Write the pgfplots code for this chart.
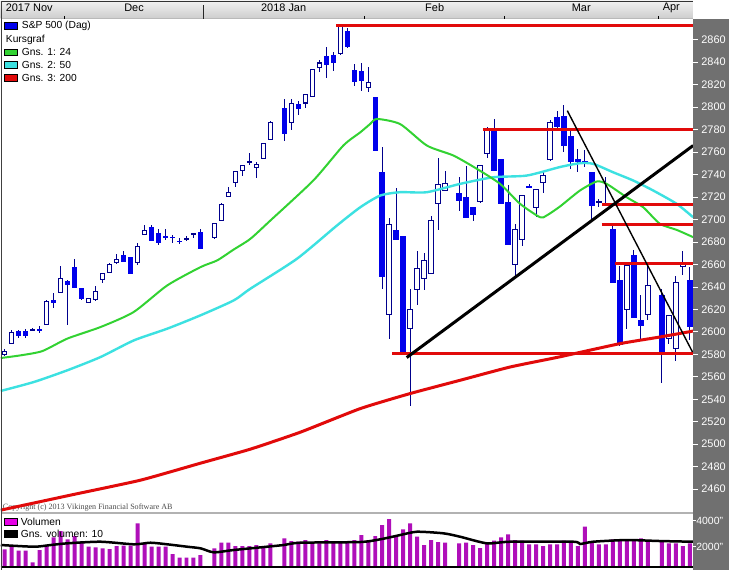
\documentclass[border=0pt]{standalone}
\usepackage{fontspec}
\setmainfont{Liberation Sans}
\newfontfamily\serifx{Liberation Serif}
\usepackage{pgfplots}
\usepackage{pgfplotstable}
\pgfplotsset{compat=1.18}
\definecolor{cblue}{RGB}{0,0,235}
\definecolor{cnavy}{RGB}{0,0,140}
\definecolor{mgreen}{RGB}{50,210,50}
\definecolor{mcyan}{RGB}{60,225,225}
\definecolor{mred}{RGB}{225,10,10}
\definecolor{vmag}{RGB}{175,15,185}
\definecolor{vmagsw}{RGB}{230,0,230}
\definecolor{strip}{RGB}{112,112,112}

% up candles: x open high low close
\pgfplotstableread{
x o h l c
0 2580.0 2585.1 2578.2 2582.9
1 2589.5 2602.0 2589.5 2599.8
4 2601.3 2603.7 2600.7 2602.2
6 2606.4 2628.0 2606.4 2627.1
8 2634.8 2658.2 2634.8 2647.3
12 2626.5 2630.0 2625.6 2629.5
13 2628.9 2640.4 2627.4 2636.3
14 2646.7 2651.7 2643.7 2651.7
15 2652.6 2661.5 2652.6 2660.0
16 2661.8 2669.5 2660.6 2664.2
19 2661.5 2679.3 2659.7 2676.0
20 2686.4 2695.3 2686.4 2690.2
26 2682.6 2684.9 2680.7 2683.0
27 2687.0 2687.6 2683.4 2687.5
30 2684.3 2696.2 2682.8 2696.2
31 2699.1 2714.5 2699.1 2713.3
32 2720.4 2729.3 2720.4 2723.7
33 2732.6 2742.9 2729.3 2742.9
34 2743.3 2748.0 2738.9 2748.0
35 2750.5 2759.3 2748.9 2751.2
36 2746.5 2750.9 2737.1 2748.9
37 2754.0 2767.3 2754.0 2767.3
38 2771.1 2788.0 2771.1 2786.0
41 2786.0 2807.3 2779.7 2802.9
43 2803.7 2811.1 2798.9 2811.1
44 2809.3 2834.0 2809.3 2833.1
45 2835.4 2842.2 2830.9 2839.3
48 2847.8 2872.4 2846.7 2872.4
52 2817.1 2835.4 2813.2 2822.0
55 2615.3 2701.2 2594.0 2695.6
58 2602.8 2638.4 2533.8 2619.7
59 2637.5 2672.4 2623.6 2656.2
60 2647.3 2670.0 2637.5 2663.6
61 2651.7 2702.7 2651.7 2699.1
62 2714.0 2754.8 2690.8 2731.1
63 2725.8 2743.6 2725.8 2732.3
68 2716.3 2748.0 2714.5 2748.0
69 2758.4 2782.0 2754.8 2779.7
73 2659.7 2696.2 2648.7 2690.8
74 2682.0 2721.3 2676.0 2721.3
76 2710.9 2726.4 2702.0 2726.4
77 2733.2 2742.0 2723.4 2739.1
78 2753.3 2788.6 2752.4 2786.5
85 2716.0 2718.4 2710.9 2716.0
86 2712.4 2737.6 2712.2 2714.0
89 2619.7 2659.1 2602.8 2659.1
92 2615.3 2658.2 2610.8 2641.3
95 2594.0 2614.7 2589.5 2614.7
96 2585.1 2649.3 2574.0 2644.3
97 2658.5 2672.4 2650.8 2662.0
}\upc

% down candles
\pgfplotstableread{
x o h l c
2 2600.4 2601.3 2594.8 2596.0
3 2601.0 2602.5 2594.5 2596.5
5 2602.8 2604.9 2598.9 2600.7
7 2628.0 2634.8 2621.5 2625.6
9 2644.9 2645.8 2606.4 2642.0
10 2657.6 2665.1 2639.3 2639.3
11 2639.3 2639.3 2628.0 2629.2
17 2668.0 2671.8 2662.0 2662.0
18 2666.5 2666.5 2651.1 2651.7
21 2693.2 2694.7 2680.7 2680.7
22 2688.2 2691.7 2676.9 2678.9
23 2684.9 2691.7 2682.0 2683.4
24 2684.5 2686.4 2678.9 2684.0
25 2680.9 2683.4 2678.4 2680.5
28 2689.3 2691.7 2674.0 2674.0
40 2799.3 2807.3 2769.6 2776.2
42 2802.9 2805.8 2793.3 2798.4
46 2845.8 2853.2 2826.0 2837.5
47 2846.7 2848.7 2831.8 2839.3
49 2868.0 2870.4 2852.3 2853.2
50 2833.1 2838.4 2819.1 2822.0
51 2832.4 2839.3 2814.0 2823.6
53 2809.3 2809.3 2760.7 2761.3
54 2742.0 2764.3 2638.4 2648.7
56 2690.8 2727.8 2682.0 2682.0
57 2684.9 2684.9 2581.2 2581.2
65 2723.4 2738.2 2707.4 2716.3
66 2720.4 2748.0 2701.5 2701.5
67 2710.9 2710.9 2698.5 2703.6
70 2780.6 2789.5 2743.6 2743.6
71 2754.0 2754.0 2714.0 2714.0
72 2715.4 2731.1 2677.5 2677.5
75 2730.2 2731.7 2727.8 2727.8
79 2790.9 2797.0 2780.0 2782.0
80 2792.4 2802.2 2759.8 2765.2
81 2774.7 2780.6 2745.1 2750.9
82 2754.0 2762.8 2742.0 2750.9
83 2752.4 2762.0 2746.5 2750.4
84 2742.0 2742.0 2699.1 2712.4
87 2691.7 2695.6 2643.4 2643.4
88 2646.4 2658.2 2587.1 2588.0
90 2668.0 2673.1 2612.6 2612.6
91 2610.8 2632.4 2593.1 2604.9
94 2633.1 2638.4 2554.5 2581.2
98 2645.8 2657.6 2592.4 2604.3
}\downc

% volume
\pgfplotstableread{
x v
0 1800
1 2000
2 1692
3 1692
4 800
5 1746
6 2131
7 2723
8 3208
9 2569
10 2823
11 2385
12 2000
13 1954
14 1877
15 1823
16 2054
17 2077
18 2077
19 3800
20 2262
21 2000
22 2000
23 2000
24 1438
25 1154
26 1154
27 1154
28 1362
30 1877
31 2308
32 2308
33 2054
34 2054
35 2054
36 2131
37 2054
38 2262
40 2646
41 2438
42 2385
43 2515
44 2262
45 2262
46 2515
47 2385
48 2385
49 2385
50 2515
51 2900
52 2515
53 2823
54 3669
55 4131
56 2900
57 3338
58 3800
59 2769
60 2131
61 2515
62 2362
63 2308
65 2262
66 2308
67 2131
68 1900
69 2208
70 2462
71 2723
72 2954
73 2515
74 2462
75 2185
76 2185
77 2054
78 2185
79 2185
80 2462
81 2308
82 2054
83 3538
84 2308
85 2185
86 2185
87 2569
88 2569
89 2515
90 2569
91 2646
92 2462
94 2515
95 2262
96 2262
97 2054
98 2262
}\vol

\pgfplotsset{candle/.style={draw=none, mark=none, forget plot,
  error bars/.cd, y dir=both, y explicit, error mark=none}}

\begin{document}
\begin{tikzpicture}
\fill[white] (0bp,0bp) rectangle (729bp,570bp);
\fill[strip] (693bp,0bp) rectangle (729bp,552bp);
\shade[top color=gray!10, bottom color=gray!40] (0bp,552bp) rectangle (693bp,570bp);
\draw[gray!40!black, line width=1.2bp] (0bp,569.4bp) -- (693bp,569.4bp);
\draw[gray!55, line width=0.8bp] (0bp,552.4bp) -- (693bp,552.4bp);
\draw[black, line width=0.7bp] (63.3bp,552bp) -- (63.3bp,555bp);
\draw[black, line width=0.7bp] (364.3bp,552bp) -- (364.3bp,555bp);
\draw[black, line width=0.7bp] (504.3bp,552bp) -- (504.3bp,555bp);
\draw[black, line width=0.7bp] (658.3bp,552bp) -- (658.3bp,555bp);
\draw[gray!30!black, line width=1.3bp] (203.3bp,552bp) -- (203.3bp,566bp);
\begin{scope}[every node/.style={font=\fontsize{11}{12}\selectfont, inner sep=0pt}]
\node at (28.5bp,563bp) {2017 Nov};
\node at (133.5bp,563bp) {Dec};
\node at (283.3bp,563bp) {2018 Jan};
\node at (434.5bp,563bp) {Feb};
\node at (581.3bp,563bp) {Mar};
\node at (671.5bp,563bp) {Apr};
\end{scope}
\node[anchor=west, inner sep=0pt, text=gray!60!black, font=\serifx\fontsize{8.1}{9}\selectfont] at (2bp,63bp) {Copyright (c) 2013 Vikingen Financial Software AB};

\begin{axis}[at={(0bp,58bp)}, anchor=south west, width=693bp, height=494bp, scale only axis,
  xmin=-0.5714, xmax=98.43, ymin=2439.6, ymax=2878.7,
  axis line style={draw=none}, xtick=\empty,
  ytick={2460,2480,...,2860}, ytick pos=right, yticklabel pos=right,
  tick align=outside, major tick length=5bp, tick style={white, line width=0.8bp},
  yticklabel style={white, font=\fontsize{11}{12}\selectfont},
  /pgf/number format/1000 sep={}, /pgf/number format/assume math mode=true]
% wicks
\addplot[candle, error bar style={draw=cnavy, line width=1bp}]
  table[x=x, y expr={(\thisrow{h}+\thisrow{l})/2}, y error expr={(\thisrow{h}-\thisrow{l})/2}] {\upc};
\addplot[candle, error bar style={draw=cnavy, line width=1bp}]
  table[x=x, y expr={(\thisrow{h}+\thisrow{l})/2}, y error expr={(\thisrow{h}-\thisrow{l})/2}] {\downc};
% up bodies
\addplot[candle, error bar style={draw=cnavy, line width=5.5bp}]
  table[x=x, y expr={(\thisrow{o}+\thisrow{c})/2}, y error expr={(\thisrow{c}-\thisrow{o})/2+0.45}] {\upc};
\addplot[candle, error bar style={draw=white, line width=3.5bp}]
  table[x=x, y expr={(\thisrow{o}+\thisrow{c})/2}, y error expr={max((\thisrow{c}-\thisrow{o})/2-0.45,0)}] {\upc};
% down bodies
\addplot[candle, error bar style={draw=cblue, line width=5.5bp}]
  table[x=x, y expr={(\thisrow{o}+\thisrow{c})/2}, y error expr={max((\thisrow{o}-\thisrow{c})/2,0.45)}] {\downc};
% moving averages
\addplot[mred, line width=3bp, smooth, tension=0.3] coordinates {(-0.57,2441.3) (9.43,2454.7) (19.43,2468.0) (28.0,2483.1) (35.14,2495.6) (42.29,2510.7) (50.86,2531.7) (58.0,2545.1) (65.14,2556.9) (72.29,2568.7) (79.43,2577.8) (88.0,2589.5) (93.71,2595.4) (98.47,2600.7)};
\addplot[mcyan, line width=2.4bp, smooth, tension=0.4] coordinates {(-0.57,2547.4) (4.19,2555.4) (8.96,2565.8) (13.71,2577.6) (18.47,2592.4) (23.24,2602.8) (28.0,2614.7) (32.76,2628.0) (35.14,2638.4) (41.81,2665.1) (47.53,2694.7) (50.86,2710.9) (53.71,2721.3) (56.57,2724.3) (60.39,2724.3) (65.14,2731.7) (69.9,2737.6) (74.67,2739.1) (79.43,2746.7) (82.29,2750.1) (84.19,2749.5) (87.04,2742.0) (89.9,2734.7) (92.76,2725.8) (96.1,2714.0) (98.47,2702.0)};
\addplot[mgreen, line width=2bp, smooth, tension=0.4] coordinates {(-0.57,2576.7) (2.29,2579.1) (5.39,2582.9) (8.96,2594.0) (13.71,2604.3) (18.43,2617.6) (23.24,2641.3) (28.0,2657.6) (30.39,2663.6) (32.71,2673.1) (35.14,2682.8) (38.0,2699.1) (44.14,2734.7) (48.43,2765.8) (50.86,2777.6) (52.29,2785.1) (53.24,2789.5) (56.57,2784.9) (60.39,2765.8) (64.19,2756.9) (67.53,2745.1) (70.86,2731.7) (73.71,2714.0) (76.57,2702.0) (77.53,2703.6) (79.43,2711.6) (82.29,2725.8) (84.67,2733.8) (86.1,2731.7) (88.96,2719.8) (91.33,2710.9) (93.71,2696.2) (96.1,2690.8) (98.47,2684.3)};
% support / resistance lines
\addplot[mred, line width=3bp] coordinates {(47.4,2872.4) (98.43,2872.4)};
\addplot[mred, line width=3bp] coordinates {(68.4,2779.7) (98.43,2779.7)};
\addplot[mred, line width=3bp] coordinates {(85.4,2713.1) (98.43,2713.1)};
\addplot[mred, line width=3bp] coordinates {(85.4,2695.3) (98.43,2695.3)};
\addplot[mred, line width=3bp] coordinates {(87.3,2660.6) (98.43,2660.6)};
\addplot[mred, line width=3bp] coordinates {(55.4,2580.9) (98.43,2580.9)};
% trend lines
\addplot[black, line width=3bp] coordinates {(57.5,2577.1) (98.47,2765.8)};
\addplot[black, line width=1.4bp] coordinates {(80.47,2796.9) (98.39,2582.0)};
\end{axis}

\begin{axis}[at={(0bp,3bp)}, anchor=south west, width=693bp, height=54bp, scale only axis,
  xmin=-0.5714, xmax=98.43, ymin=439, ymax=4592,
  axis line style={draw=none}, xtick=\empty,
  ytick={2000,4000}, yticklabels={2000\symbol{34},4000\symbol{34}},
  ytick pos=right, yticklabel pos=right,
  tick align=outside, major tick length=3bp, tick style={white, line width=0.8bp},
  yticklabel style={white, font=\fontsize{10.5}{12}\selectfont, xshift=-3bp}]
\addplot[ybar, bar width=4bp, bar shift=0pt, fill=vmag, draw=none] table[x=x, y=v] {\vol};
\addplot[black, line width=2.5bp, smooth, tension=0.4] coordinates {(-0.57,2131) (4.19,2000) (6.57,2131) (8.96,2262) (13.71,2385) (18.47,2185) (20.86,2308) (23.24,2185) (26.1,2000) (28.0,1877) (29.9,1569) (32.76,1746) (37.53,2000) (39.9,2131) (42.29,2308) (50.86,2362) (53.71,2569) (56.57,2900) (58.96,3154) (62.76,3031) (65.14,2769) (68.96,2262) (72.29,2385) (81.33,2385) (82.29,2208) (84.19,2385) (88.96,2515) (93.71,2438) (98.43,2385)};
\end{axis}

\draw[gray!60, line width=1.5bp] (0bp,57.3bp) -- (693bp,57.3bp);
\draw[black, line width=1.2bp] (0bp,3bp) -- (693bp,3bp);
\draw[gray!50!black, line width=1.5bp] (0.75bp,0bp) -- (0.75bp,570bp);

\begin{scope}[every node/.style={font=\fontsize{10.3}{12}\selectfont, inner sep=0pt, anchor=west}]
\filldraw[fill=cblue, draw=black, line width=0.6bp] (4bp,541.5bp) rectangle (16.5bp,548bp);
\node at (21bp,544.7bp) {S\&P 500 (Dag)};
\node at (5bp,530.7bp) {Kursgraf};
\filldraw[fill=mgreen, draw=black, line width=0.6bp] (4bp,515.2bp) rectangle (16.5bp,521.7bp);
\node at (21bp,518.3bp) {Gns. 1: 24};
\filldraw[fill=mcyan, draw=black, line width=0.6bp] (4bp,502.6bp) rectangle (16.5bp,509.1bp);
\node at (21bp,505.7bp) {Gns. 2: 50};
\filldraw[fill=mred, draw=black, line width=0.6bp] (4bp,489.6bp) rectangle (16.5bp,496.1bp);
\node at (21bp,492.7bp) {Gns. 3: 200};
\filldraw[fill=vmagsw, draw=black, line width=0.6bp] (4bp,45.2bp) rectangle (16.5bp,51.7bp);
\node at (20bp,48.3bp) {Volumen};
\filldraw[fill=black, draw=black, line width=0.6bp] (4bp,32.9bp) rectangle (16.5bp,39.4bp);
\node at (20bp,36bp) {Gns. volumen: 10};
\end{scope}
\end{tikzpicture}
\end{document}
